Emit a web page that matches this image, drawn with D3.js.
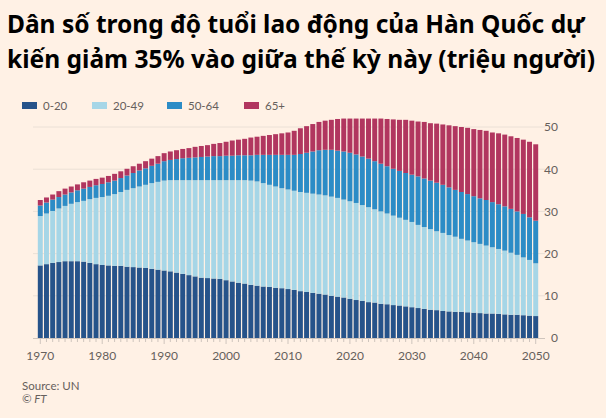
<!DOCTYPE html>
<html>
<head>
<meta charset="utf-8">
<script src="https://cdn.jsdelivr.net/npm/d3@7"></script>
<style>
  html, body { margin: 0; padding: 0; background: #fff1e5; }
  svg { display: block; }
</style>
</head>
<body>
<svg id="chart" width="606" height="418"></svg>
<script>
const years = d3.range(1970, 2051);
const age0to20 = [17.2,17.5,17.8,18.0,18.2,18.2,18.2,18.1,17.8,17.5,17.3,17.2,17.1,17.1,16.9,16.8,16.7,16.6,16.4,16.2,16.0,15.8,15.5,15.2,14.9,14.6,14.3,14.2,14.1,14.0,13.7,13.4,13.1,12.9,12.6,12.4,12.2,12.1,11.9,11.8,11.6,11.4,11.1,10.9,10.7,10.5,10.3,10.0,9.8,9.6,9.3,9.0,8.8,8.5,8.4,8.1,8.0,7.8,7.7,7.5,7.3,7.1,6.9,6.7,6.6,6.4,6.3,6.2,6.2,6.1,6.0,5.9,5.8,5.8,5.7,5.6,5.5,5.5,5.4,5.3,5.2];
const age20to49 = [11.7,12.0,12.3,12.7,13.1,13.6,14.0,14.4,15.1,15.7,16.1,16.5,17.0,17.5,18.2,18.7,19.2,19.7,20.3,20.8,21.3,21.6,21.9,22.2,22.5,22.8,23.1,23.2,23.3,23.4,23.7,24.0,24.3,24.5,24.7,24.7,24.5,24.2,24.0,23.7,23.6,23.5,23.5,23.5,23.5,23.5,23.5,23.5,23.4,23.2,23.1,23.0,22.7,22.5,22.1,21.9,21.5,21.2,20.8,20.5,20.2,19.7,19.4,19.1,18.7,18.5,18.1,17.8,17.3,17.0,16.7,16.4,16.1,15.7,15.4,15.1,14.7,14.2,13.7,13.2,12.5];
const age50to64 = [2.5,2.6,2.7,2.7,2.7,2.7,2.8,2.9,2.9,3.0,3.1,3.2,3.2,3.3,3.4,3.6,3.8,3.9,4.1,4.3,4.6,4.8,5.0,5.2,5.3,5.4,5.5,5.6,5.7,5.7,5.8,5.8,5.9,5.9,6.0,6.3,6.7,7.1,7.5,7.9,8.2,8.5,9.0,9.5,10.0,10.5,10.8,11.1,11.2,11.4,11.5,11.5,11.5,11.5,11.4,11.3,11.2,11.1,11.1,11.1,11.2,11.5,11.5,11.5,11.5,11.4,11.3,11.1,11.1,11.0,10.9,10.8,10.8,10.7,10.6,10.5,10.4,10.3,10.3,10.1,10.1];
const age65plus = [1.3,1.2,1.2,1.4,1.4,1.4,1.4,1.5,1.5,1.5,1.5,1.5,1.6,1.6,1.6,1.6,1.6,1.7,1.7,1.8,1.9,2.0,2.1,2.2,2.3,2.5,2.6,2.7,2.9,3.1,3.3,3.6,3.7,3.9,4.2,4.3,4.5,4.7,4.9,5.1,5.3,5.7,6.1,6.3,6.5,6.7,6.9,7.1,7.5,7.8,8.1,8.5,9.0,9.5,10.1,10.7,11.2,11.7,12.1,12.6,12.8,13.0,13.4,13.6,14.0,14.3,14.7,15.1,15.4,15.7,15.9,16.2,16.4,16.5,16.8,17.0,17.2,17.4,17.6,17.9,18.1];
const seriesNames = ["0-20", "20-49", "50-64", "65+"];
const seriesColors = ["#26538a", "#a6d6e7", "#2c8cc6", "#b1365f"];
const yTicks = [0, 10, 20, 30, 40, 50];
const xTickLabels = [1970, 1980, 1990, 2000, 2010, 2020, 2030, 2040, 2050];
const titleLines = ["Dân số trong độ tuổi lao động của Hàn Quốc dự", "kiến giảm 35% vào giữa thế kỳ này (triệu người)"];
const sourceText = "Source: UN";
const creditText = "© FT";

const table = years.map((yr, i) => ({
  year: yr,
  "0-20": age0to20[i],
  "20-49": age20to49[i],
  "50-64": age50to64[i],
  "65+": age65plus[i]
}));

const svg = d3.select("#chart");
const textColor = "#66605c";

// Title: fit each line to its width in the reference
const titleSpec = [{y: 33, w: 578}, {y: 68, w: 588}];
titleLines.forEach((t, i) => {
  const el = svg.append("text")
    .attr("x", 7).attr("y", titleSpec[i].y)
    .attr("font-family", "'Noto Sans', 'Open Sans', sans-serif")
    .attr("font-weight", "bold")
    .attr("font-size", 26)
    .attr("fill", "#000")
    .text(t);
  const natural = el.node().getComputedTextLength();
  const fs = Math.min(26, 26 * titleSpec[i].w / natural);
  el.attr("font-size", fs.toFixed(2));
});

// Scales
const x = d3.scaleBand().domain(years).range([37.5, 538.5]).paddingInner(0.2).paddingOuter(0.05);
const y = d3.scaleLinear().domain([0, 50]).range([338, 127]);
const color = d3.scaleOrdinal().domain(seriesNames).range(seriesColors);

// Gridlines
svg.append("g").selectAll("line").data(yTicks.filter(d => d > 0)).join("line")
  .attr("x1", 33).attr("x2", 545)
  .attr("y1", d => y(d)).attr("y2", d => y(d))
  .attr("stroke", "#ebe0d6").attr("stroke-width", 1);

// Bars
const stack = d3.stack().keys(seriesNames)(table);
svg.append("g").selectAll("g").data(stack).join("g")
  .attr("fill", d => color(d.key))
  .selectAll("rect").data(d => d).join("rect")
  .attr("x", d => x(d.data.year))
  .attr("width", x.bandwidth())
  .attr("y", d => y(d[1]))
  .attr("height", d => y(d[0]) - y(d[1]));

// X axis
const xAxis = d3.axisBottom(x)
  .tickValues(years)
  .tickSize(4)
  .tickFormat(d => xTickLabels.includes(d) ? d : "");
const gx = svg.append("g").attr("transform", "translate(0,338)").call(xAxis);
gx.select(".domain").attr("stroke", "#cfc5bd").attr("d", "M33,0.5H545");
gx.selectAll(".tick line").attr("stroke", "#cfc5bd")
  .attr("y2", d => xTickLabels.includes(d) ? 6 : 4);
gx.selectAll(".tick text")
  .attr("font-family", "Lato, 'Noto Sans', sans-serif")
  .attr("font-size", 12)
  .attr("fill", textColor)
  .attr("y", 13);

// Y axis (right)
const yAxis = d3.axisRight(y).tickValues(yTicks).tickSize(0).tickPadding(0);
const gy = svg.append("g").attr("transform", "translate(558,0)").call(yAxis);
gy.select(".domain").remove();
gy.selectAll(".tick text")
  .attr("text-anchor", "end")
  .attr("x", 0)
  .attr("font-family", "Lato, 'Noto Sans', sans-serif")
  .attr("font-size", 12)
  .attr("fill", textColor);

// Legend
const legendX = [22, 92, 167, 244];
const legend = svg.append("g");
seriesNames.forEach((name, i) => {
  legend.append("rect")
    .attr("x", legendX[i]).attr("y", 102)
    .attr("width", 15).attr("height", 7)
    .attr("fill", color(name));
  legend.append("text")
    .attr("x", legendX[i] + 21).attr("y", 109.5)
    .attr("font-family", "Lato, 'Noto Sans', sans-serif")
    .attr("font-size", 11.5)
    .attr("fill", textColor)
    .text(name);
});

// Source
svg.append("text").attr("x", 22).attr("y", 390)
  .attr("font-family", "Lato, 'Noto Sans', sans-serif")
  .attr("font-size", 11.5).attr("fill", textColor).text(sourceText);
svg.append("text").attr("x", 22).attr("y", 403)
  .attr("font-family", "Lato, 'Noto Sans', sans-serif")
  .attr("font-style", "italic")
  .attr("font-size", 11.5).attr("fill", textColor).text(creditText);
</script>
</body>
</html>
